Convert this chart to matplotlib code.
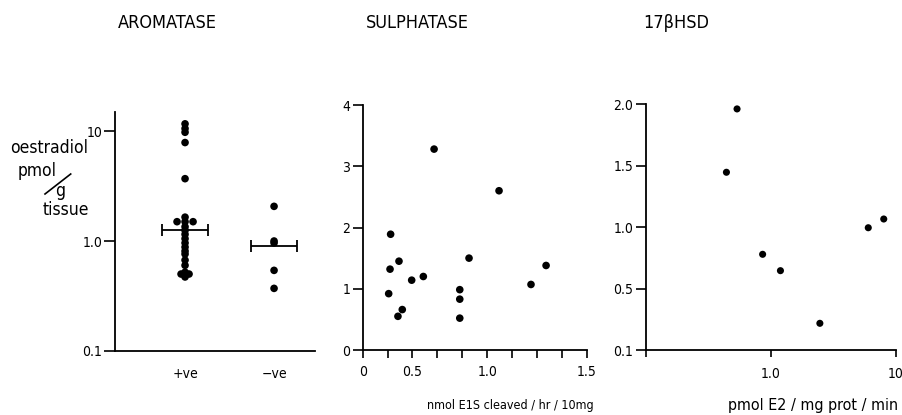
import numpy as np
import matplotlib
matplotlib.use("Agg")
import matplotlib.pyplot as plt
from matplotlib.lines import Line2D

plt.rcParams['font.family'] = ['DejaVu Sans']
plt.rcParams['font.stretch'] = 'condensed'

# ---------------- data ----------------
titles = ["AROMATASE", "SULPHATASE", "17βHSD"]

# Panel 1: oestradiol (pmol/g tissue), receptor +ve / -ve
arom_categories = ["+ve", "\u2212ve"]
arom_pos = [11.7, 10.6, 9.8, 7.9, 3.7, 1.65, 1.5, 1.5, 1.5, 1.35, 1.25, 1.15,
            1.05, 0.96, 0.88, 0.81, 0.76, 0.67, 0.60, 0.52, 0.50, 0.50, 0.47]
arom_neg = [2.07, 1.0, 0.96, 0.54, 0.37]
arom_means = [1.25, 0.91]
arom_yticks = [0.1, 1.0, 10]
arom_yticklabels = ["0.1", "1.0", "10"]

# Panel 2: sulphatase (nmol E1S cleaved / hr / 10mg) vs oestradiol
sulph_x = [0.478, 0.913, 0.187, 0.712, 1.228, 0.243, 0.183, 0.406, 0.328, 1.127,
           0.174, 0.65, 0.65, 0.65, 0.265, 0.236]
sulph_y = [3.28, 2.60, 1.89, 1.50, 1.38, 1.45, 1.32, 1.20, 1.14, 1.07,
           0.92, 0.985, 0.83, 0.52, 0.66, 0.55]
sulph_xticklabels = ["0", "", "0.5", "", "", "1.0", "", "", "", "1.5"]
sulph_yticks = [0, 1, 2, 3, 4]

# Panel 3: 17bHSD (pmol E2 / mg prot / min) vs oestradiol
hsd_x = [0.535, 0.44, 0.857, 1.19, 2.46, 6.0, 7.98]
hsd_y = [1.96, 1.445, 0.778, 0.645, 0.217, 0.994, 1.065]
hsd_yticks = [0, 0.5, 1.0, 1.5, 2.0]
hsd_yticklabels = ["0.1", "0.5", "1.0", "1.5", "2.0"]
hsd_xticks = [0.1, 1.0, 10]
hsd_xticklabels = ["", "1.0", "10"]

xlabel2 = "nmol E1S cleaved / hr / 10mg"
xlabel3 = "pmol E2 / mg prot / min"

# ---------------- figure ----------------
W, H = 903, 415
fig = plt.figure(figsize=(W / 100, H / 100), dpi=100)

def ax_px(left, top, right, bottom):
    return fig.add_axes([left / W, 1 - bottom / H, (right - left) / W, (bottom - top) / H])

def style(ax):
    for s in ("top", "right"):
        ax.spines[s].set_visible(False)
    for s in ("left", "bottom"):
        ax.spines[s].set_linewidth(1.3)
    ax.tick_params(which="both", direction="out", width=1.2, labelsize=10, colors="black")
    ax.minorticks_off()

dot = dict(s=30, color="black", edgecolors="none", zorder=3)

# Panel 1
ax1 = ax_px(115, 112, 315, 350.7)
style(ax1)
ax1.set_yscale("log")
ax1.set_ylim(0.1, 15)
ax1.set_xlim(0.213, 2.46)

def spread(values, step=0.09):
    vals = np.asarray(values, float)
    offs = np.zeros_like(vals)
    for v in np.unique(vals):
        idx = np.where(vals == v)[0]
        n = len(idx)
        if n > 1:
            offs[idx] = (np.arange(n) - (n - 1) / 2) * step
    return offs

for i, grp in enumerate([arom_pos, arom_neg]):
    xs = (i + 1) + spread(grp)
    ax1.scatter(xs, grp, **dot)
ax1.errorbar([1, 2], arom_means, xerr=0.26, fmt="none", ecolor="black",
             elinewidth=1.3, capsize=4, capthick=1.3, zorder=4)
ax1.set_yticks(arom_yticks)
ax1.set_yticklabels(arom_yticklabels)
ax1.yaxis.set_minor_locator(matplotlib.ticker.NullLocator())
ax1.tick_params(axis="y", length=8, pad=1)
ax1.set_xticks([1, 2])
ax1.set_xticklabels(arom_categories)
ax1.tick_params(axis="x", length=0, pad=12)

# Panel 2
ax2 = ax_px(362.7, 105, 586.7, 350)
style(ax2)
ax2.set_xlim(0, 1.5)
ax2.set_ylim(0, 4)
ax2.scatter(sulph_x, sulph_y, **dot)
ax2.set_xticks(np.linspace(0, 1.5, len(sulph_xticklabels)))
ax2.set_xticklabels(sulph_xticklabels)
ax2.set_yticks(sulph_yticks)
ax2.tick_params(axis="x", length=6, pad=5)
ax2.tick_params(axis="y", length=7, pad=2)
ax2.set_xlabel(xlabel2, fontsize=9, va="center")
ax2.xaxis.set_label_coords((510 - 362.7) / 224, -(405 - 350) / 245)

# Panel 3
ax3 = ax_px(646, 104, 896, 350)
style(ax3)
ax3.set_xscale("log")
ax3.set_xlim(0.1, 10)
ax3.set_ylim(0, 2.0)
ax3.scatter(hsd_x, hsd_y, s=26, color="black", edgecolors="none", zorder=3)
ax3.set_xticks(hsd_xticks)
ax3.set_xticklabels(hsd_xticklabels)
ax3.xaxis.set_minor_locator(matplotlib.ticker.NullLocator())
ax3.set_yticks(hsd_yticks)
ax3.set_yticklabels(hsd_yticklabels)
ax3.tick_params(axis="x", length=5, pad=7)
ax3.tick_params(axis="y", length=7, pad=2)
ax3.set_xlabel(xlabel3, fontsize=11.5, va="center")
ax3.xaxis.set_label_coords((813 - 646) / 250, -(405 - 350) / 246)

# Titles
for t, cx in zip(titles, [167, 417, 676]):
    fig.text(cx / W, 1 - 23 / H, t, ha="center", va="center", fontsize=13)

# Y label of panel 1 (stacked)
fs = 12.5
fig.text(10 / W, 1 - 153 / H, "oestradiol", ha="left", va="baseline", fontsize=fs)
fig.text(18 / W, 1 - 176 / H, "pmol", ha="left", va="baseline", fontsize=fs)
fig.text(55 / W, 1 - 196 / H, "g", ha="left", va="baseline", fontsize=fs)
fig.text(43 / W, 1 - 215 / H, "tissue", ha="left", va="baseline", fontsize=fs)
fig.add_artist(Line2D([45 / W, 70.7 / W], [1 - 194 / H, 1 - 174 / H],
                      transform=fig.transFigure, color="black", lw=1.2))

fig.savefig("out.png", dpi=100)
